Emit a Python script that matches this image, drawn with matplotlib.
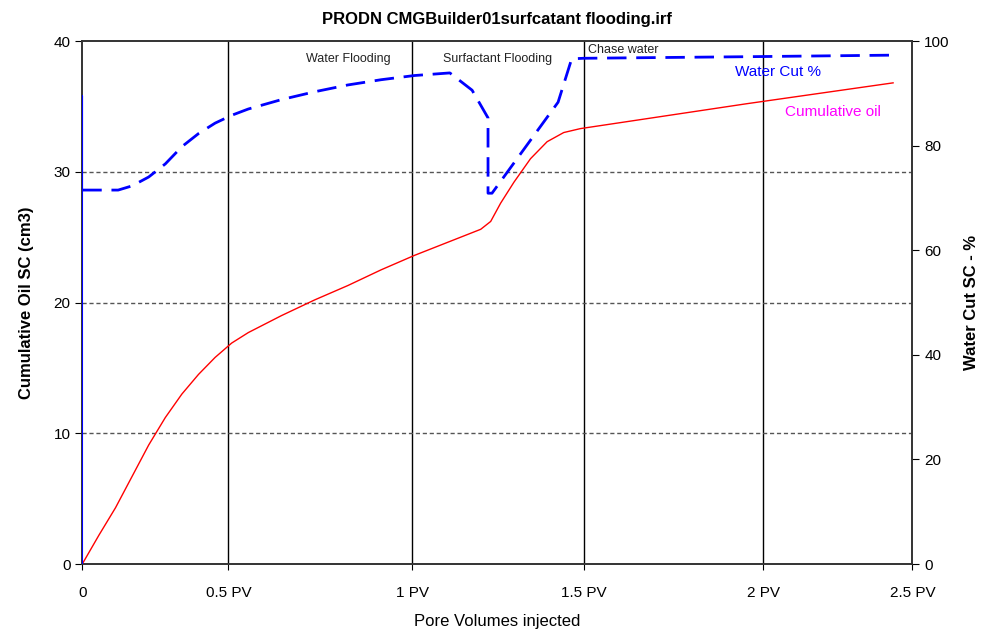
import matplotlib
matplotlib.use("Agg")
import matplotlib.pyplot as plt

plt.rcParams['font.family'] = ['Liberation Sans', 'DejaVu Sans']

# x positions of the PV ticks (axis runs 0..2.5)
pv_tick_pos = [0, 0.44, 0.994, 1.511, 2.051, 2.5]
pv_tick_labels = ["0", "0.5 PV", "1 PV", "1.5 PV", "2 PV", "2.5 PV"]

# Cumulative oil (cm3)
oil_x = [0, 0.05, 0.1, 0.15, 0.2, 0.25, 0.3, 0.35, 0.4, 0.45, 0.5, 0.6, 0.7,
         0.8, 0.9, 1.0, 1.1, 1.2, 1.23, 1.26, 1.3, 1.35, 1.4, 1.45, 1.5, 2.0, 2.442]
oil_y = [0, 2.2, 4.3, 6.7, 9.1, 11.2, 13.0, 14.5, 15.8, 16.9, 17.7, 19.0, 20.2,
         21.3, 22.5, 23.6, 24.6, 25.6, 26.2, 27.6, 29.2, 31.0, 32.3, 33.0, 33.3, 35.2, 36.8]

# Water cut (%)
wc_start_x = [0, 0, 0]
wc_start_y = [0, 89.4, 71.5]
wc_x = [0, 0.108, 0.15, 0.2, 0.25, 0.3, 0.35, 0.4, 0.45, 0.5, 0.6, 0.7, 0.8, 0.9,
        1.0, 1.107, 1.174, 1.222, 1.222, 1.234, 1.433, 1.474, 1.51, 2.0, 2.442]
wc_y = [71.5, 71.5, 72.3, 74.0, 76.5, 79.8, 82.3, 84.3, 85.8, 87.0, 88.8, 90.3, 91.6, 92.6,
        93.4, 93.9, 90.6, 85.3, 70.9, 70.9, 88.3, 96.6, 96.7, 97.0, 97.3]

fig = plt.figure(figsize=(9.89, 6.34), dpi=100)
ax = fig.add_axes([0.0832, 0.1104, 0.8393, 0.8249])
ax2 = ax.twinx()

ax.set_xlim(0, 2.5)
ax.set_ylim(0, 40)
ax2.set_ylim(0, 100)

# grid: solid verticals at PV ticks, dashed horizontals
for x in pv_tick_pos[1:-1]:
    ax.axvline(x, color="black", lw=1.0, zorder=1)
for y in [10, 20, 30]:
    ax.axhline(y, color="#555555", lw=1.0, ls=(0, (3, 2)), zorder=1)

ax.plot(oil_x, oil_y, color="red", lw=1.0, zorder=3)
ax2.plot(wc_start_x, wc_start_y, color="blue", lw=1.5, zorder=3)
ax2.plot(wc_x, wc_y, color="blue", lw=2.0, ls=(0, (7, 3.5)), zorder=3)

ax.set_xticks(pv_tick_pos)
ax.set_xticklabels(pv_tick_labels, fontsize=11)
ax.set_yticks([0, 10, 20, 30, 40])
ax.tick_params(axis="y", labelsize=11, direction="out", length=5)
ax.tick_params(axis="x", direction="out", length=4, pad=12)
ax2.set_yticks([0, 20, 40, 60, 80, 100])
ax2.tick_params(axis="y", labelsize=11, direction="out", length=5)

for a in (ax, ax2):
    for s in a.spines.values():
        s.set_linewidth(1.2)
        s.set_color("#333333")

ax.set_xlabel("Pore Volumes injected", fontsize=12, labelpad=10)
ax.set_ylabel("Cumulative Oil SC (cm3)", fontsize=12, fontweight="bold", labelpad=14)
ax2.set_ylabel("Water Cut SC - %", fontsize=12, fontweight="bold", labelpad=10)
ax.set_title("PRODN CMGBuilder01surfcatant flooding.irf", fontsize=12,
             fontweight="bold", pad=12)

ax.text(0.80, 38.6, "Water Flooding", fontsize=9, ha="center", va="center", color="#222222")
ax.text(1.252, 38.6, "Surfactant Flooding", fontsize=9, ha="center", va="center", color="#222222")
ax.text(1.523, 39.3, "Chase water", fontsize=9, ha="left", va="center", color="#222222")
ax.text(2.095, 37.6, "Water Cut %", fontsize=11, ha="center", va="center", color="blue")
ax.text(2.26, 34.6, "Cumulative oil", fontsize=11, ha="center", va="center", color="magenta")

fig.savefig("out.png", dpi=100)
